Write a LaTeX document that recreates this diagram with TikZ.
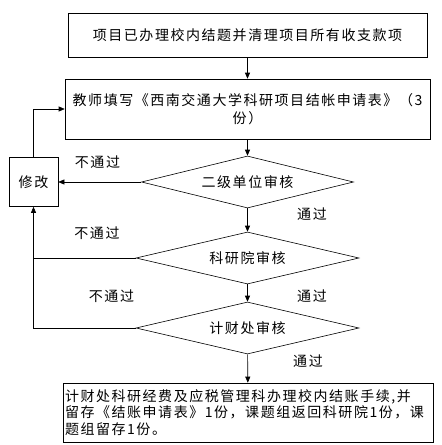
\documentclass[tikz,border=0pt]{standalone}
\usepackage{fontspec}
\newfontfamily\cjk[LetterSpace=11]{Noto Sans CJK SC}
\usetikzlibrary{shapes.geometric,arrows.meta}

\begin{document}
\begin{tikzpicture}[x=1pt, y=-1pt, >={Triangle[length=6pt,width=5pt]},
  font=\cjk\fontsize{14}{18}\selectfont, line width=0.6pt,
  stepbox/.style={draw, inner sep=2pt},
  check/.style={draw, diamond, aspect=4.5, inner sep=0pt, minimum height=52pt}]
  \useasboundingbox (0,0) rectangle (442,445);
  % boxes
  \node[stepbox, minimum width=359pt, minimum height=44pt] (start) at (247.5,35)
        {项目已办理校内结题并清理项目所有收支款项};
  \node[stepbox, minimum width=365pt, minimum height=60pt, align=center] (fill) at (247.5,109)
        {教师填写《西南交通大学科研项目结帐申请表》（3\\份）};
  \node[stepbox, minimum width=49pt, minimum height=49pt] (fix) at (33.5,182) {修改};
  % checks
  \node[check, minimum width=212pt] (unit) at (247.5,182) {二级单位审核};
  \node[check, minimum width=223pt] (sci) at (247.5,258) {科研院审核};
  \node[check, minimum width=223pt] (fin) at (247.5,328) {计财处审核};
  \node[stepbox, minimum width=370pt, minimum height=59pt, text width=366pt, align=left,
        font=\cjk\fontsize{14}{16.5}\selectfont] (done) at (248,412.5)
        {计财处科研经费及应税管理科办理校内结账手续,并\\
         留存《结账申请表》1份，课题组返回科研院1份，课\\
         题组留存1份。};
  % connectors
  \draw[->] (start) -- (fill);
  \draw[->] (fill) -- (unit);
  \draw[->] (unit) -- (sci);
  \draw[->] (sci) -- (fin);
  \draw[->] (fin) -- (done);
  \draw[->] (unit) -- (fix);
  \draw[->] (fix.north) |- (fill.west);
  \draw (sci.west) -- (sci.west -| fix.south);
  \draw[->] (fin.west) -| (fix.south);
  % labels
  \node at (97.5,162) {不通过};
  \node at (97,233) {不通过};
  \node at (111.5,296) {不通过};
  \node at (312,214) {通过};
  \node at (312,296) {通过};
  \node at (308,361) {通过};
\end{tikzpicture}
\end{document}
